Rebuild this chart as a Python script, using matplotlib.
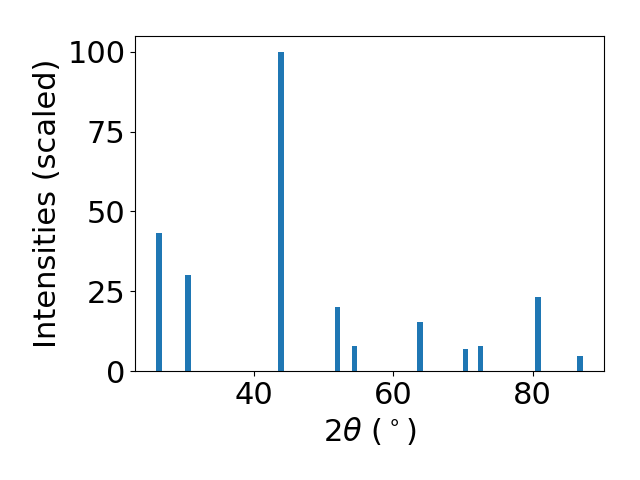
import matplotlib
matplotlib.use("Agg")
import matplotlib.pyplot as plt
from matplotlib.ticker import MultipleLocator

two_theta = [26.36, 30.5, 43.84, 51.97, 54.42, 63.81, 70.32, 72.47, 80.78, 86.79]
intensities = [43.3, 30.1, 100.0, 20.06, 7.84, 15.3, 6.8, 8.0, 23.2, 4.6]

fig, ax = plt.subplots(figsize=(6.4, 4.8), dpi=100)
fig.subplots_adjust(left=0.211, right=0.944, top=0.925, bottom=0.227)
ax.bar(two_theta, intensities, width=0.8, color="#1f77b4")
ax.set_xlabel(r"2$\theta$ ($^\circ$)", fontsize=22)
ax.set_ylabel("Intensities (scaled)", fontsize=22)
ax.yaxis.set_major_locator(MultipleLocator(25))
ax.tick_params(labelsize=22)
fig.savefig("out.png", dpi=100)
